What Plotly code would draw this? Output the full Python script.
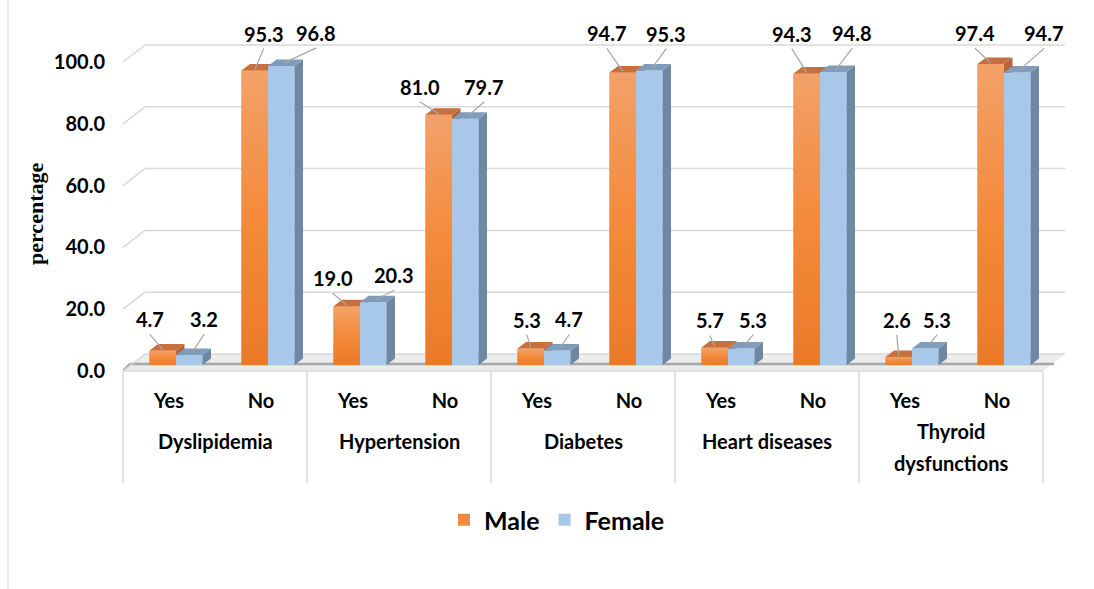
import plotly.graph_objects as go

# ---- data -------------------------------------------------------------
conditions = ["Dyslipidemia", "Hypertension", "Diabetes", "Heart diseases",
              "Thyroid<br>dysfunctions"]
answers = ["Yes", "No"]
male = [4.7, 95.3, 19.0, 81.0, 5.3, 94.7, 5.7, 94.3, 2.6, 97.4]
female = [3.2, 96.8, 20.3, 79.7, 4.7, 95.3, 5.3, 94.8, 5.3, 94.7]
y_ticks = [0, 20, 40, 60, 80, 100]

# data-label placement (px, relative to the top centre of each column face)
male_lbl_dx = [-13, 9, -14, -19, -4, -16, -5, -15, -2, -16]
male_lbl_dy = [31, 37, 28, 28, 29, 39, 27, 40, 37, 31]
female_lbl_dx = [15, 35, 21, 19, 12, 17, 12, 19, 12, 27]
female_lbl_dy = [36, 33, 27, 32, 31, 37, 29, 39, 29, 39]

# ---- layout geometry (pixels) -----------------------------------------
W, H = 1094, 589
ML, MR, MT, MB = 108, 14, 15, 204
plot_w = W - ML - MR
plot_h = H - MT - MB
SLOT = 92.0          # px per category slot
PPU = 3.09           # px per percentage point
X0_PX = 176.0 - ML   # centre of first slot on the bar plane
Y0_PX = 365.0 - MT   # zero line of the bar plane
x_range = [-X0_PX / SLOT, (plot_w - X0_PX) / SLOT]
y_range = [-(plot_h - Y0_PX) / PPU, Y0_PX / PPU]


def ux(px):
    return px / SLOT


def uy(px):
    return px / PPU


# pseudo-3D offsets (px): bar depth, front edge of floor, back wall
BAR_W = ux(26.5)
DEPTH_X, DEPTH_Y = ux(8.5), uy(6.5)
FRONT_X, FRONT_Y = ux(-7), uy(-6)
BACK_X, BACK_Y = ux(15), uy(11)

FONT = "Lato"
GRID = "#d9d9d9"
MALE_SCALE = [[0, "#eb7a27"], [0.5, "#f48a3b"], [1, "#f3a169"]]

n = len(male)
xs = list(range(n))


def faces(vals, left_off):
    """Top and right-side parallelograms of each column."""
    tx, ty, sx, sy = [], [], [], []
    for x, v in zip(xs, vals):
        x0 = x + left_off
        x1 = x0 + BAR_W
        tx += [x0, x1, x1 + DEPTH_X, x0 + DEPTH_X, x0, None]
        ty += [v, v, v + DEPTH_Y, v + DEPTH_Y, v, None]
        sx += [x1, x1 + DEPTH_X, x1 + DEPTH_X, x1, x1, None]
        sy += [0, DEPTH_Y, v + DEPTH_Y, v, 0, None]
    return tx, ty, sx, sy


fig = go.Figure()

# male columns (base subplot)
fig.add_trace(go.Bar(x=xs, y=male, width=BAR_W, offset=-BAR_W, name="Male",
                     marker=dict(color="#f08a3f", line=dict(width=0)),
                     hoverinfo="skip"))
# vertical shading on each male column face
for x, v in zip(xs, male):
    x0, x1 = x - BAR_W, x
    fig.add_trace(go.Scatter(x=[x0, x1, x1, x0, x0], y=[0, 0, v, v, 0],
                             fill="toself", mode="lines", line=dict(width=0),
                             fillgradient=dict(type="vertical", colorscale=MALE_SCALE,
                                               start=0, stop=v),
                             showlegend=False, hoverinfo="skip"))
mtx, mty, msx, msy = faces(male, -BAR_W)
fig.add_trace(go.Scatter(x=msx, y=msy, fill="toself", mode="lines",
                         line=dict(width=0), fillcolor="#b0653a",
                         showlegend=False, hoverinfo="skip"))
fig.add_trace(go.Scatter(x=mtx, y=mty, fill="toself", mode="lines",
                         line=dict(width=0), fillcolor="#c7703d",
                         showlegend=False, hoverinfo="skip"))

# female columns on an overlaying subplot so they paint in front
fig.add_trace(go.Bar(x=xs, y=female, width=BAR_W, offset=0, name="Female",
                     xaxis="x2", yaxis="y2",
                     marker=dict(color="#a7c8e8", line=dict(width=0)),
                     hoverinfo="skip"))
ftx, fty, fsx, fsy = faces(female, 0)
fig.add_trace(go.Scatter(x=fsx, y=fsy, fill="toself", mode="lines",
                         xaxis="x2", yaxis="y2",
                         line=dict(width=0), fillcolor="#6e88a4",
                         showlegend=False, hoverinfo="skip"))
fig.add_trace(go.Scatter(x=ftx, y=fty, fill="toself", mode="lines",
                         xaxis="x2", yaxis="y2",
                         line=dict(width=0), fillcolor="#7f9cba",
                         showlegend=False, hoverinfo="skip"))

shapes = []
left, right = -0.5, n - 0.5

# floor
shapes.append(dict(type="path", xref="x", yref="y", layer="below",
                   path=(f"M{left + FRONT_X},{FRONT_Y} L{right + FRONT_X},{FRONT_Y} "
                         f"L{right + BACK_X},{BACK_Y} L{left + BACK_X},{BACK_Y} Z"),
                   fillcolor="#ebebeb", line=dict(width=0)))
shapes.append(dict(type="line", xref="x", yref="y", layer="below",
                   x0=left + FRONT_X, y0=FRONT_Y, x1=left, y1=uy(1),
                   line=dict(color="#a8a8a8", width=2.5)))
shapes.append(dict(type="line", xref="x", yref="y", layer="below",
                   x0=left, y0=uy(1), x1=right + ux(4), y1=uy(1),
                   line=dict(color="#a8a8a8", width=2.5)))
shapes.append(dict(type="line", xref="x", yref="y", layer="below",
                   x0=left + FRONT_X, y0=FRONT_Y, x1=right + FRONT_X, y1=FRONT_Y,
                   line=dict(color=GRID, width=1.5)))

# side-wall + back-wall gridlines
for t in y_ticks:
    shapes.append(dict(type="line", xref="x", yref="y", layer="below",
                       x0=left + FRONT_X, y0=t + FRONT_Y,
                       x1=left + BACK_X, y1=t + BACK_Y,
                       line=dict(color=GRID, width=1.5)))
    shapes.append(dict(type="line", xref="x", yref="y", layer="below",
                       x0=left + BACK_X, y0=t + BACK_Y,
                       x1=right + BACK_X, y1=t + BACK_Y,
                       line=dict(color=GRID, width=1.5)))


def py_paper(px):
    return (H - MB - px) / plot_h


def px_paper(px):
    return (px - ML) / plot_w


# category table dividers
for k in range(len(conditions) + 1):
    xv = left + 2 * k + FRONT_X
    shapes.append(dict(type="line", xref="x", yref="paper",
                       x0=xv, x1=xv, y0=py_paper(372), y1=py_paper(483),
                       line=dict(color=GRID, width=1.5)))

# outer chart border (left edge)
shapes.append(dict(type="line", xref="paper", yref="paper",
                   x0=px_paper(8), x1=px_paper(8), y0=py_paper(0), y1=py_paper(589),
                   line=dict(color=GRID, width=1)))

annotations = []
LBL_FONT = dict(family=FONT, size=20, color="#000", weight="bold")
LEADER = dict(color="#a6a6a6", width=1.2)

# data labels with leader lines
for x, v, dx, dy in zip(xs, male, male_lbl_dx, male_lbl_dy):
    xc = x - BAR_W / 2
    annotations.append(dict(x=xc, y=v, xref="x", yref="y", text=f"{v:.1f}",
                            showarrow=False, xshift=dx, yshift=dy, font=LBL_FONT))
    shapes.append(dict(type="line", xref="x", yref="y",
                       xsizemode="pixel", ysizemode="pixel", xanchor=xc, yanchor=v,
                       x0=dx, y0=dy - 15, x1=0, y1=1, line=LEADER))
for x, v, dx, dy in zip(xs, female, female_lbl_dx, female_lbl_dy):
    xc = x + BAR_W / 2
    annotations.append(dict(x=xc, y=v, xref="x", yref="y", text=f"{v:.1f}",
                            showarrow=False, xshift=dx, yshift=dy, font=LBL_FONT))
    shapes.append(dict(type="line", xref="x", yref="y",
                       xsizemode="pixel", ysizemode="pixel", xanchor=xc, yanchor=v,
                       x0=dx, y0=dy - 15, x1=3, y1=3, line=LEADER))

# condition names under the Yes/No row
CAT_FONT = dict(family=FONT, size=20, color="#000", weight="bold")
for k, name in enumerate(conditions):
    lines = name.split("<br>")
    ys = [441] if len(lines) == 1 else [431, 463]
    for line, ypx in zip(lines, ys):
        annotations.append(dict(x=2 * k + 0.5 + FRONT_X, y=py_paper(ypx),
                                xref="x", yref="paper", text=line, showarrow=False,
                                yanchor="middle", font=CAT_FONT))

# y-axis title
annotations.append(dict(x=px_paper(35), y=py_paper(214), xref="paper", yref="paper",
                        text="percentage", textangle=-90, showarrow=False,
                        xanchor="center", yanchor="middle",
                        font=dict(family="Liberation Serif", size=22, color="#000",
                                  weight="bold")))

fig.update_layout(
    width=W, height=H,
    margin=dict(l=ML, r=MR, t=MT, b=MB),
    paper_bgcolor="white", plot_bgcolor="rgba(0,0,0,0)",
    barmode="overlay",
    xaxis=dict(range=x_range, tickvals=xs, ticktext=answers * len(conditions),
               showgrid=False, zeroline=False, showline=False, ticks="",
               ticklabelshift=-7, ticklabelstandoff=2, tickfont=CAT_FONT),
    yaxis=dict(range=y_range, tickvals=y_ticks, tickformat=".1f",
               showgrid=False, zeroline=False, showline=False, ticks="",
               ticklabelshift=6, ticklabelstandoff=2,
               tickfont=dict(family=FONT, size=20, color="#000", weight="bold")),
    xaxis2=dict(range=x_range, overlaying="x", visible=False),
    yaxis2=dict(range=y_range, overlaying="y", visible=False),
    showlegend=True,
    legend=dict(orientation="h", x=px_paper(557), xanchor="center",
                y=py_paper(520), yanchor="middle",
                font=dict(family=FONT, size=25, color="#000", weight="bold"),
                bgcolor="rgba(0,0,0,0)"),
    shapes=shapes,
    annotations=annotations,
)

fig.write_html("out.html")
